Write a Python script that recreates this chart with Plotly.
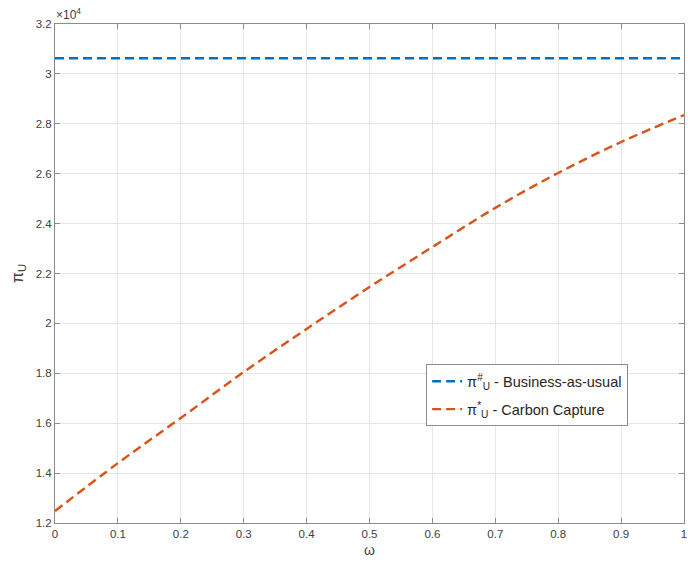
import plotly.graph_objects as go

# Weight parameter omega and profit of the upstream firm (in units of 1e4)
omega = [0.0, 0.1, 0.2, 0.3, 0.4, 0.5, 0.6, 0.7, 0.8, 0.9, 1.0]
pi_bau = [3.063] * len(omega)
pi_cc = [1.248, 1.440, 1.621, 1.805, 1.978, 2.146, 2.306, 2.463, 2.603, 2.727, 2.835]

scale = 1e4
y_ticks = [1.2, 1.4, 1.6, 1.8, 2.0, 2.2, 2.4, 2.6, 2.8, 3.0, 3.2]
y_tick_text = ["1.2", "1.4", "1.6", "1.8", "2", "2.2", "2.4", "2.6", "2.8", "3", "3.2"]
x_ticks = [0, 0.1, 0.2, 0.3, 0.4, 0.5, 0.6, 0.7, 0.8, 0.9, 1]
x_tick_text = ["0", "0.1", "0.2", "0.3", "0.4", "0.5", "0.6", "0.7", "0.8", "0.9", "1"]

font = "Liberation Sans, Arial, sans-serif"

fig = go.Figure()
fig.add_trace(go.Scatter(
    x=omega, y=[v * scale for v in pi_bau], mode="lines",
    line=dict(color="#0072BD", width=2.4, dash="9px,5px"),
    name="π<sup>#</sup><sub>U</sub> - Business-as-usual", legendgroup="bau",
))
fig.add_trace(go.Scatter(
    x=omega, y=[v * scale for v in pi_cc], mode="lines",
    line=dict(color="#D95319", width=2.4, dash="9px,5px", shape="spline"),
    name="π<sup>*</sup><sub>U</sub> - Carbon Capture", legendgroup="cc",
))

axis_common = dict(
    showgrid=True, gridcolor="#E6E6E6", gridwidth=1,
    showline=True, linecolor="#8C8C8C", linewidth=1, mirror="ticks",
    ticks="inside", ticklen=5, tickcolor="#8C8C8C",
    tickfont=dict(family=font, size=11.5, color="#404040"),
    zeroline=False, ticklabeloverflow="allow",
)

fig.update_layout(
    width=688, height=564,
    margin=dict(l=55, r=1, t=24, b=41),
    paper_bgcolor="white", plot_bgcolor="white",
    font=dict(family=font, color="#262626"),
    xaxis=dict(range=[0, 1], tickvals=x_ticks, ticktext=x_tick_text,
               title=dict(text="ω", font=dict(family=font, size=14, color="#404040"), standoff=6),
               **axis_common),
    yaxis=dict(range=[1.2 * scale, 3.2 * scale],
               tickvals=[t * scale for t in y_ticks], ticktext=y_tick_text,
               title=dict(text="π<sub>U</sub>", font=dict(family=font, size=16, color="#404040"), standoff=8),
               **axis_common),
    legend=dict(
        x=0.59, y=0.318, xanchor="left", yanchor="top",
        bgcolor="white", bordercolor="#8C8C8C", borderwidth=1,
        font=dict(family=font, size=14.5, color="#262626"),
        tracegroupgap=6, itemwidth=30,
    ),
    showlegend=True,
)

fig.add_annotation(
    x=0, y=1, xref="paper", yref="paper", xanchor="left", yanchor="bottom",
    text="×10<sup>4</sup>", showarrow=False,
    font=dict(family=font, size=12, color="#404040"), xshift=-1, yshift=0,
)

fig.write_html("out.html")
